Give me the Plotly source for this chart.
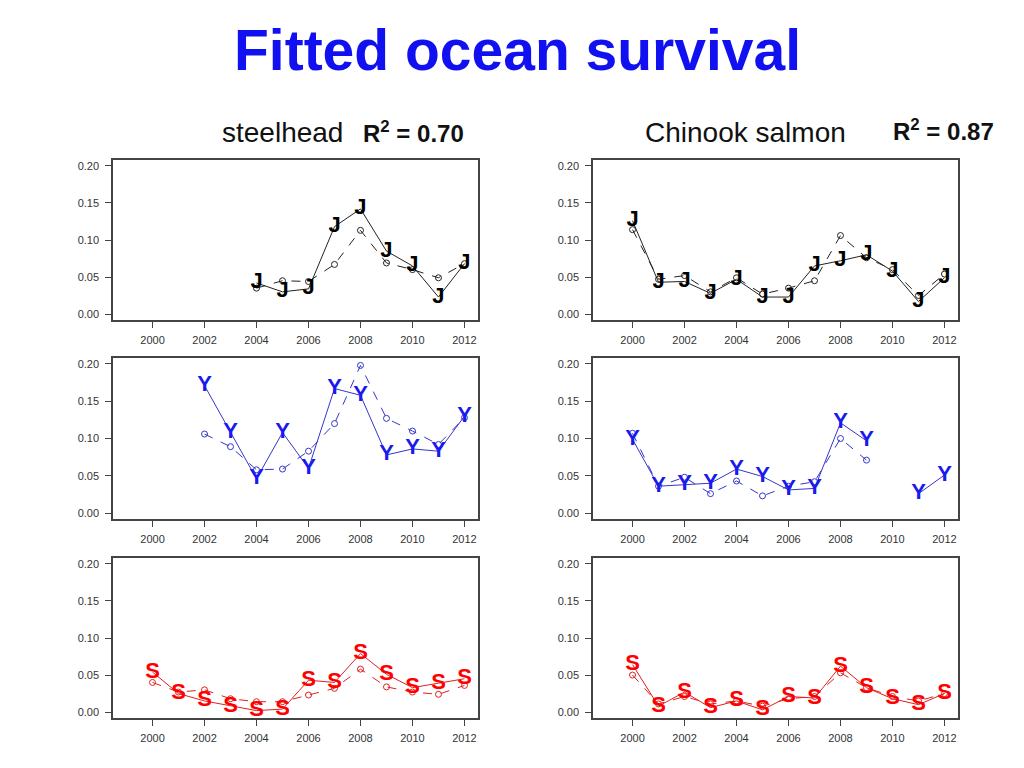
import plotly.graph_objects as go

years = list(range(2000, 2013))

# Steelhead (left column) observed (solid, letters) and fitted (dashed, circles)
sth_J_obs = [None, None, None, None, 0.042, 0.030, 0.034, 0.118, 0.142, 0.085, 0.065, 0.023, 0.068]
sth_J_fit = [None, None, None, None, 0.035, 0.045, 0.044, 0.067, 0.113, 0.069, 0.060, 0.049, 0.068]
sth_Y_obs = [None, None, 0.171, 0.108, 0.046, 0.108, 0.060, 0.167, 0.158, 0.078, 0.086, 0.083, 0.130]
sth_Y_fit = [None, None, 0.106, 0.089, 0.058, 0.059, 0.083, 0.120, 0.198, 0.127, 0.110, 0.092, 0.128]
sth_S_obs = [0.054, 0.025, 0.015, 0.008, 0.002, 0.004, 0.043, 0.040, 0.079, 0.051, 0.033, 0.039, 0.045]
sth_S_fit = [0.040, 0.027, 0.030, 0.018, 0.014, 0.014, 0.023, 0.032, 0.058, 0.034, 0.027, 0.024, 0.036]

# Chinook salmon (right column)
chk_J_obs = [0.126, 0.043, 0.044, 0.028, 0.047, 0.023, 0.023, 0.065, 0.072, 0.080, 0.058, 0.017, 0.049]
chk_J_fit = [0.114, 0.047, 0.052, 0.030, 0.049, 0.027, 0.035, 0.045, 0.106, 0.076, 0.060, 0.025, 0.054]
chk_Y_obs = [0.099, 0.036, 0.038, 0.040, 0.059, 0.049, 0.031, 0.033, 0.121, 0.097, None, 0.026, 0.051]
chk_Y_fit = [0.107, 0.036, 0.048, 0.026, 0.043, 0.023, 0.036, 0.042, 0.100, 0.071, None, None, None]
chk_S_obs = [0.064, 0.008, 0.027, 0.006, 0.015, 0.003, 0.021, 0.019, 0.062, 0.033, 0.018, 0.010, 0.025]
chk_S_fit = [0.050, 0.011, 0.021, 0.011, 0.015, 0.008, 0.018, 0.021, 0.053, 0.033, 0.021, 0.015, 0.025]

x_ticks = [2000, 2002, 2004, 2006, 2008, 2010, 2012]
y_ticks = [0.00, 0.05, 0.10, 0.15, 0.20]
y_tick_text = ["0.00", "0.05", "0.10", "0.15", "0.20"]

title_text = "Fitted ocean survival"
col_titles = ["steelhead", "Chinook salmon"]
r2_texts = ["R<sup>2</sup> = 0.70", "R<sup>2</sup> = 0.87"]

# page body has an 8px margin: figure is drawn from (8,8)
OFF = 8
W, H = 1016, 760
col_px = [(113 - OFF, 478 - OFF), (593 - OFF, 958 - OFF)]
row_px = [(160 - OFF, 320 - OFF), (358 - OFF, 519 - OFF), (558 - OFF, 718 - OFF)]

panels = [
    (0, 0, "J", sth_J_obs, sth_J_fit, "#000000", "#222222"),
    (0, 1, "J", chk_J_obs, chk_J_fit, "#000000", "#222222"),
    (1, 0, "Y", sth_Y_obs, sth_Y_fit, "#1a1aee", "#3535cc"),
    (1, 1, "Y", chk_Y_obs, chk_Y_fit, "#1a1aee", "#3535cc"),
    (2, 0, "S", sth_S_obs, sth_S_fit, "#ff0000", "#e02020"),
    (2, 1, "S", chk_S_obs, chk_S_fit, "#ff0000", "#e02020"),
]

fig = go.Figure()
layout_axes = {}
for i, (r, c, letter, obs, fit, tcol, lcol) in enumerate(panels):
    n = i + 1
    xa = "x" if n == 1 else f"x{n}"
    ya = "y" if n == 1 else f"y{n}"
    fig.add_trace(go.Scatter(
        x=years, y=fit, xaxis=xa, yaxis=ya, mode="lines+markers",
        line=dict(color=lcol, width=1, dash="dash"),
        marker=dict(symbol="circle-open", size=6, color=lcol, line=dict(width=1)),
        showlegend=False, hoverinfo="skip"))
    fig.add_trace(go.Scatter(
        x=years, y=obs, xaxis=xa, yaxis=ya, mode="lines",
        line=dict(color=lcol, width=1),
        showlegend=False, hoverinfo="skip"))
    xs = [yr for yr, v in zip(years, obs) if v is not None]
    vs = [v for v in obs if v is not None]
    fig.add_trace(go.Scatter(
        x=xs, y=vs, xaxis=xa, yaxis=ya, mode="text",
        text=[letter] * len(vs), textposition="middle center",
        textfont=dict(family="Liberation Sans", size=22, color=tcol, weight="bold"),
        showlegend=False, hoverinfo="skip"))
    x0, x1 = col_px[c]
    y0, y1 = row_px[r]
    axcommon = dict(showline=True, mirror=True, linecolor="#444444", linewidth=1.5,
                    showgrid=False, zeroline=False, ticks="outside", ticklen=6,
                    tickcolor="#444444", tickfont=dict(family="Liberation Sans", size=11, color="#333333"))
    layout_axes["xaxis" if n == 1 else f"xaxis{n}"] = dict(
        domain=[x0 / W, x1 / W], range=[1998.48, 2012.52], tickvals=x_ticks,
        anchor=ya, ticklabelstandoff=3, **axcommon)
    layout_axes["yaxis" if n == 1 else f"yaxis{n}"] = dict(
        domain=[1 - y1 / H, 1 - y0 / H], range=[-0.008, 0.208], tickvals=y_ticks,
        ticktext=y_tick_text, anchor=xa, ticklabelstandoff=4, **axcommon)

fig.update_layout(**layout_axes)

def ann(text, x, y, size, color="#111111"):
    return dict(text=text, x=(x - OFF) / W, y=1 - (y - OFF) / H, xref="paper", yref="paper",
                showarrow=False, font=dict(family="Liberation Sans", size=size, color=color),
                xanchor="center", yanchor="middle")

annotations = [
    ann(f"<b>{title_text}</b>", 517, 50, 57, "#1010f0"),
    ann(col_titles[0], 282, 132, 28),
    ann(f"<b>{r2_texts[0]}</b>", 413, 132, 24),
    ann(col_titles[1], 745, 132, 28),
    ann(f"<b>{r2_texts[1]}</b>", 943, 130, 24),
]

fig.update_layout(
    width=W, height=H, margin=dict(l=0, r=0, t=0, b=0),
    paper_bgcolor="white", plot_bgcolor="white", annotations=annotations,
)

fig.write_html("out.html")
